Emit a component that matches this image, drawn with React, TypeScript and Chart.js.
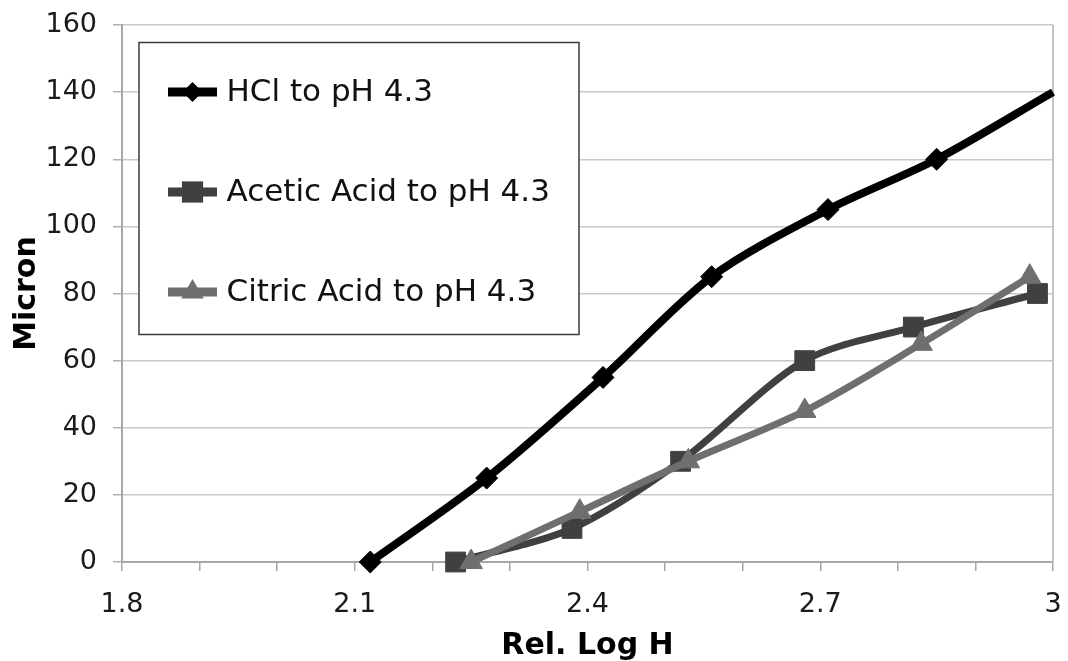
import React, { useEffect, useRef } from 'react';
import { Chart, registerables } from 'chart.js';
import { drawPoint } from 'chart.js/helpers';

Chart.register(...registerables);

const seriesNames = ['HCl to pH 4.3', 'Acetic Acid to pH 4.3', 'Citric Acid to pH 4.3'];
const hclX = [2.12, 2.27, 2.42, 2.56, 2.71, 2.85, 3.0];
const hclY = [0, 25, 55, 85, 105, 120, 140];
const aceticX = [2.23, 2.38, 2.52, 2.68, 2.82, 2.98];
const aceticY = [0, 10, 30, 60, 70, 80];
const citricX = [2.25, 2.39, 2.53, 2.68, 2.83, 2.97];
const citricY = [0, 15, 30, 45, 65, 85];
const xMin = 1.8;
const xMax = 3;
const xStep = 0.1;
const yMin = 0;
const yMax = 160;
const yStep = 20;
const xTitle = 'Rel. Log H';
const yTitle = 'Micron';

const FONT = '"DejaVu Sans", Verdana, sans-serif';

const toPoints = (xs: number[], ys: number[]) => xs.map((x, i) => ({ x, y: ys[i] }));

const legendPlugin = {
  id: 'boxLegend',
  afterDatasetsDraw(chart: any) {
    const { ctx, chartArea } = chart;
    const x0 = chartArea.left + 17;
    const y0 = chartArea.top + 17.5;
    const w = 440;
    const h = 292;
    ctx.save();
    ctx.fillStyle = '#ffffff';
    ctx.fillRect(x0, y0, w, h);
    ctx.strokeStyle = '#3c3c3c';
    ctx.lineWidth = 1.5;
    ctx.strokeRect(x0, y0, w, h);
    chart.data.datasets.forEach((ds: any, i: number) => {
      const cy = y0 + 49.5 + i * 100;
      ctx.strokeStyle = ds.borderColor;
      ctx.lineWidth = 9;
      ctx.lineCap = 'butt';
      ctx.beginPath();
      ctx.moveTo(x0 + 29, cy);
      ctx.lineTo(x0 + 78, cy);
      ctx.stroke();
      ctx.fillStyle = ds.pointBackgroundColor;
      drawPoint(ctx, { pointStyle: ds.pointStyle, radius: ds.legendRadius, borderWidth: 0, rotation: 0 } as any, x0 + 53.5, cy);
      ctx.fillStyle = '#111111';
      ctx.font = `31px ${FONT}`;
      ctx.textBaseline = 'middle';
      ctx.textAlign = 'left';
      ctx.fillText(ds.label, x0 + 87.5, cy + 1);
    });
    ctx.restore();
  },
};

const framePlugin = {
  id: 'rightFrame',
  beforeDatasetsDraw(chart: any) {
    const { ctx, chartArea } = chart;
    ctx.save();
    ctx.strokeStyle = '#c4c4c4';
    ctx.lineWidth = 2;
    ctx.beginPath();
    ctx.moveTo(chartArea.right, chartArea.top);
    ctx.lineTo(chartArea.right, chartArea.bottom);
    ctx.stroke();
    ctx.restore();
  },
};

export default function App() {
  const canvasRef = useRef<HTMLCanvasElement | null>(null);

  useEffect(() => {
    document.body.style.margin = '0';
    const canvas = canvasRef.current;
    if (!canvas) return;
    const chart = new Chart(canvas, {
      type: 'line',
      data: {
        datasets: [
          {
            label: seriesNames[0],
            data: toPoints(hclX, hclY),
            borderColor: '#000000',
            backgroundColor: '#000000',
            pointBackgroundColor: '#000000',
            pointBorderColor: '#000000',
            pointStyle: 'rectRot',
            pointRadius: (c: any) => (c.raw && c.raw.x >= xMax ? 0 : 11),
            pointBorderWidth: 1,
            borderWidth: 8,
            tension: 0.3,
            order: 2,
            clip: { left: 20, right: 8, top: 20, bottom: 20 },
            legendRadius: 10,
          } as any,
          {
            label: seriesNames[1],
            data: toPoints(aceticX, aceticY),
            borderColor: '#404040',
            backgroundColor: '#404040',
            pointBackgroundColor: '#404040',
            pointBorderColor: '#404040',
            pointStyle: 'rect',
            pointRadius: 14,
            pointBorderWidth: 1,
            borderWidth: 7,
            tension: 0.3,
            order: 1,
            clip: { left: 20, right: 20, top: 20, bottom: 20 },
            legendRadius: 15,
          } as any,
          {
            label: seriesNames[2],
            data: toPoints(citricX, citricY),
            borderColor: '#6f6f6f',
            backgroundColor: '#6f6f6f',
            pointBackgroundColor: '#6f6f6f',
            pointBorderColor: '#6f6f6f',
            pointStyle: 'triangle',
            pointRadius: 13,
            pointBorderWidth: 1,
            borderWidth: 7,
            tension: 0.3,
            order: 0,
            clip: { left: 20, right: 20, top: 20, bottom: 20 },
            legendRadius: 13,
          } as any,
        ],
      },
      options: {
        responsive: false,
        animation: false,
        devicePixelRatio: 1,
        layout: { padding: { top: 25, right: 10, left: 0, bottom: 0 } },
        plugins: {
          legend: { display: false },
          tooltip: { enabled: false },
        },
        scales: {
          x: {
            type: 'linear',
            min: xMin,
            max: xMax,
            afterFit: (s: any) => {
              s.height = 99;
              s.paddingLeft = 0;
              s.paddingRight = 0;
            },
            ticks: {
              stepSize: xStep,
              autoSkip: false,
              maxRotation: 0,
              minRotation: 0,
              padding: 18,
              color: '#1a1a1a',
              font: { family: FONT, size: 27 },
              callback: (value: any, index: number) =>
                index % 3 === 0 ? String(Number(Number(value).toFixed(1))) : '',
            },
            grid: {
              drawOnChartArea: false,
              drawTicks: true,
              tickLength: 9,
              color: '#a8a8a8',
              lineWidth: 1.5,
            },
            border: { color: '#a8a8a8', width: 2 },
            title: {
              display: true,
              text: xTitle,
              color: '#000000',
              font: { family: FONT, size: 30, weight: 'bold', lineHeight: 1 },
              padding: { top: 0, bottom: 0 },
            },
          },
          y: {
            type: 'linear',
            min: yMin,
            max: yMax,
            afterFit: (s: any) => {
              s.width = 122;
              s.paddingTop = 0;
              s.paddingBottom = 0;
            },
            ticks: {
              stepSize: yStep,
              padding: 16,
              color: '#1a1a1a',
              font: { family: FONT, size: 27 },
            },
            grid: {
              color: '#c8c8c8',
              lineWidth: 1.5,
              tickLength: 9,
              tickColor: '#b0b0b0',
            },
            border: { color: '#a8a8a8', width: 2 },
            title: {
              display: true,
              text: yTitle,
              color: '#000000',
              font: { family: FONT, size: 30, weight: 'bold', lineHeight: 1 },
              padding: { top: 12, bottom: 0 },
            },
          },
        },
      } as any,
      plugins: [framePlugin, legendPlugin],
    });
    return () => chart.destroy();
  }, []);

  return (
    <div style={{ width: 1068, height: 661, position: 'relative', background: '#ffffff' }}>
      <canvas ref={canvasRef} width={1068} height={661} />
    </div>
  );
}
